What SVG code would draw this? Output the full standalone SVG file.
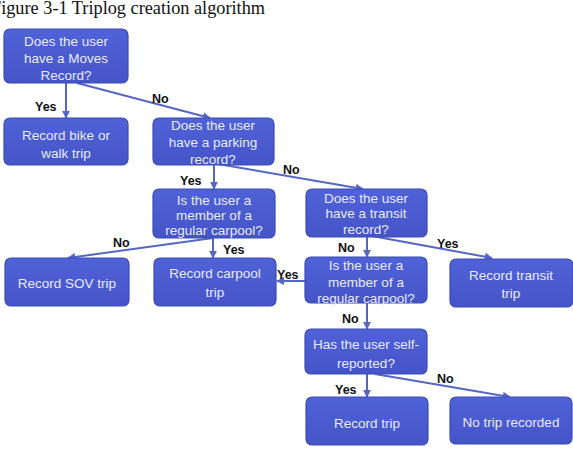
<svg xmlns="http://www.w3.org/2000/svg" width="573" height="456" viewBox="0 0 573 456">
<defs>
<linearGradient id="g" x1="0" y1="0" x2="0" y2="1">
<stop offset="0" stop-color="#5062d8"/>
<stop offset="1" stop-color="#4555c8"/>
</linearGradient>
<marker id="ah" viewBox="0 0 10 10" refX="9" refY="5" markerWidth="4" markerHeight="4" orient="auto" markerUnits="strokeWidth">
<path d="M0,0 L10,5 L0,10 z" fill="#5566c4"/>
</marker>
<style>
.box{fill:url(#g);stroke:#3c4bb5;stroke-width:1.2}
.t{font-family:"Liberation Sans",Arial,sans-serif;font-size:13.5px;fill:#e8eaf7;text-anchor:middle}
.e{stroke:#5566c4;stroke-width:2;fill:none;marker-end:url(#ah)}
.l{font-family:"Liberation Sans",Arial,sans-serif;font-size:12.5px;font-weight:bold;fill:#111}
.title{font-family:"Liberation Serif","Times New Roman",serif;font-size:19px;fill:#111}
</style>
</defs>
<rect width="573" height="456" fill="#ffffff"/>
<text class="title" x="-9" y="14" textLength="274" lengthAdjust="spacingAndGlyphs">Figure 3-1 Triplog creation algorithm</text>

<g id="connectors">
<line class="e" x1="66" y1="83" x2="66" y2="118"/>
<line class="e" x1="77" y1="83" x2="210" y2="118"/>
<line class="e" x1="214" y1="165" x2="214" y2="189"/>
<line class="e" x1="218" y1="164" x2="363" y2="189"/>
<line class="e" x1="213" y1="238" x2="68" y2="258"/>
<line class="e" x1="213" y1="238" x2="213" y2="258"/>
<line class="e" x1="367" y1="237" x2="367" y2="257"/>
<line class="e" x1="372" y1="236" x2="492" y2="258"/>
<line class="e" x1="305" y1="281" x2="277" y2="281"/>
<line class="e" x1="367" y1="303" x2="367" y2="329"/>
<line class="e" x1="367" y1="374" x2="367" y2="397"/>
<line class="e" x1="375" y1="374" x2="510" y2="397"/>
<text class="l" x="35" y="111">Yes</text>
<text class="l" x="152" y="103">No</text>
<text class="l" x="180" y="185">Yes</text>
<text class="l" x="283" y="174">No</text>
<text class="l" x="113" y="247">No</text>
<text class="l" x="223" y="254">Yes</text>
<text class="l" x="338" y="252">No</text>
<text class="l" x="437" y="248">Yes</text>
<text class="l" x="277" y="279">Yes</text>
<text class="l" x="342" y="323">No</text>
<text class="l" x="335" y="394">Yes</text>
<text class="l" x="437" y="383">No</text>
</g>

<g id="moves"><rect class="box" x="4" y="29" width="124" height="54" rx="6"/>
<text class="t" x="66" y="46">Does the user</text><text class="t" x="66" y="63">have a Moves</text><text class="t" x="66" y="80">Record?</text></g>

<g id="bike"><rect class="box" x="4" y="118" width="124" height="47" rx="6"/>
<text class="t" x="66" y="140">Record bike or</text><text class="t" x="66" y="158">walk trip</text></g>

<g id="parking"><rect class="box" x="153" y="118" width="121" height="47" rx="6"/>
<text class="t" x="213" y="130">Does the user</text><text class="t" x="213" y="147">have a parking</text><text class="t" x="213" y="164">record?</text></g>

<g id="carpool1"><rect class="box" x="153" y="189" width="122" height="49" rx="6"/>
<text class="t" x="214" y="205">Is the user a</text><text class="t" x="214" y="220">member of a</text><text class="t" x="214" y="235">regular carpool?</text></g>

<g id="transit"><rect class="box" x="306" y="189" width="121" height="48" rx="6"/>
<text class="t" x="366" y="203">Does the user</text><text class="t" x="366" y="218">have a transit</text><text class="t" x="366" y="234">record?</text></g>

<g id="sov"><rect class="box" x="5" y="258" width="124" height="48" rx="6"/>
<text class="t" x="67" y="288">Record SOV trip</text></g>

<g id="carpooltrip"><rect class="box" x="154" y="258" width="122" height="48" rx="6"/>
<text class="t" x="215" y="278">Record carpool</text><text class="t" x="215" y="297">trip</text></g>

<g id="carpool2"><rect class="box" x="305" y="257" width="122" height="46" rx="6"/>
<text class="t" x="366" y="270">Is the user a</text><text class="t" x="366" y="287">member of a</text><text class="t" x="366" y="303">regular carpool?</text></g>

<g id="transittrip"><rect class="box" x="450" y="259" width="123" height="48" rx="6"/>
<text class="t" x="511" y="280">Record transit</text><text class="t" x="511" y="298">trip</text></g>

<g id="selfreport"><rect class="box" x="305" y="329" width="122" height="45" rx="6"/>
<text class="t" x="366" y="349">Has the user self-</text><text class="t" x="366" y="368">reported?</text></g>

<g id="recordtrip"><rect class="box" x="306" y="397" width="122" height="48" rx="6"/>
<text class="t" x="367" y="428">Record trip</text></g>

<g id="notrip"><rect class="box" x="450" y="397" width="122" height="47" rx="6"/>
<text class="t" x="511" y="427">No trip recorded</text></g>
</svg>
